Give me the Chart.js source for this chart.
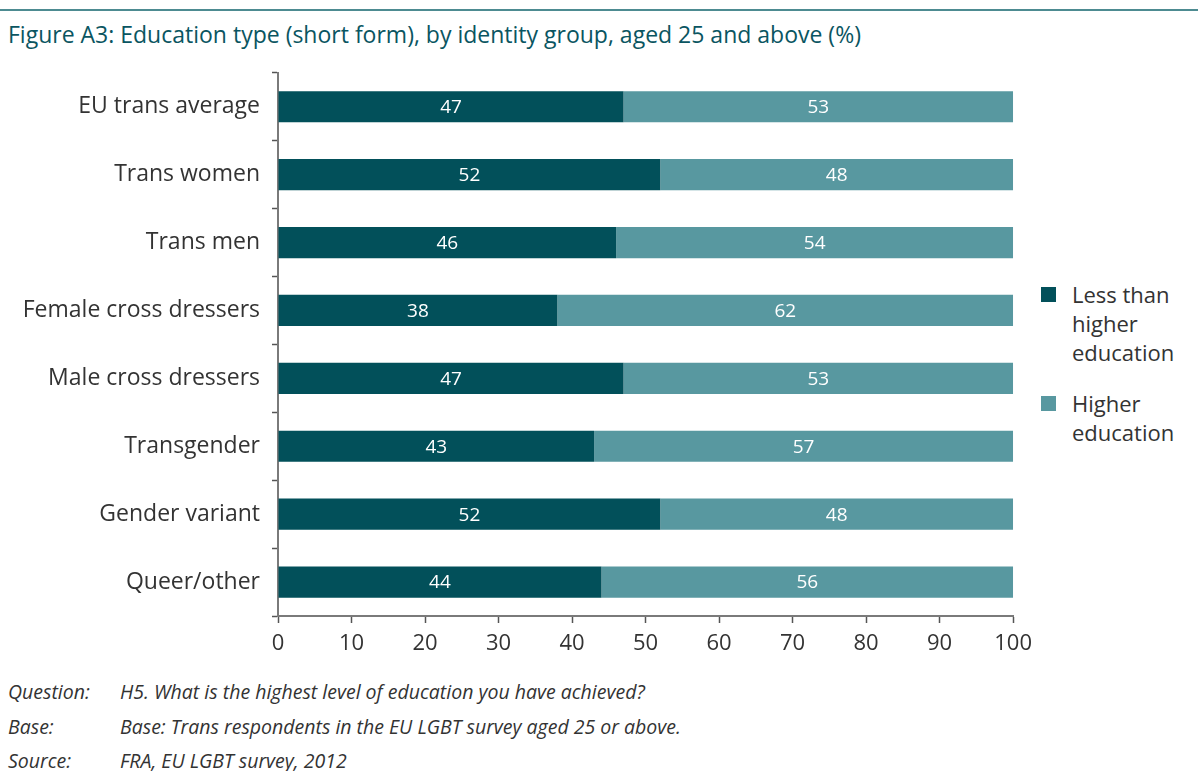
<!DOCTYPE html>
<html>
<head>
<meta charset="utf-8">
<script src="https://cdn.jsdelivr.net/npm/chart.js@4.4.0/dist/chart.umd.min.js"></script>
<style>
  body { margin: 0; background: #fff; font-family: "Open Sans", "Noto Sans", sans-serif; }
  #page { position: relative; width: 1198px; height: 771px; overflow: hidden; }
  #topRule { position: absolute; left: 0; top: 9px; width: 1198px; height: 2px; background: #4d8b91; }
  #title { position: absolute; left: 8px; top: 18px; font-size: 23px; color: #0a5561; white-space: nowrap; }
  #chartBox { position: absolute; left: 0; top: 47px; width: 1040px; height: 625px; }
  #legend { position: absolute; left: 1041px; top: 280px; font-size: 22px; color: #333; line-height: 29px; }
  .legItem { position: relative; padding-left: 31px; margin-bottom: 22px; }
  .legItem span.sw { position: absolute; left: 0; top: 7px; width: 15px; height: 15px; }
  #notes { position: absolute; left: 8px; top: 678px; font-size: 19.5px; color: #333; font-style: italic; }
  .note { height: 34.5px; white-space: nowrap; }
  .note b { display: inline-block; width: 112px; font-weight: normal; }
</style>
</head>
<body>
<div id="page">
  <div id="topRule"></div>
  <div id="title">Figure A3: Education type (short form), by identity group, aged 25 and above (%)</div>
  <div id="chartBox"><canvas id="eduChart"></canvas></div>
  <div id="legend"></div>
  <div id="notes">
    <div class="note"><b>Question:</b>H5. What is the highest level of education you have achieved?</div>
    <div class="note"><b>Base:</b>Base: Trans respondents in the EU LGBT survey aged 25 or above.</div>
    <div class="note"><b>Source:</b>FRA, EU LGBT survey, 2012</div>
  </div>
</div>
<script>
// Education type by identity group
const groups = ['EU trans average', 'Trans women', 'Trans men', 'Female cross dressers',
    'Male cross dressers', 'Transgender', 'Gender variant', 'Queer/other'];
const lessThanHigher = [47, 52, 46, 38, 47, 43, 52, 44];
const higherEdu = [53, 48, 54, 62, 53, 57, 48, 56];
const seriesNames = [['Less than', 'higher', 'education'], ['Higher', 'education']];
const xTicks = [0, 10, 20, 30, 40, 50, 60, 70, 80, 90, 100];

const darkTeal = '#02505a';
const lightTeal = '#5898a0';

// white value labels centred in each bar segment
const barLabels = {
    id: 'barLabels',
    afterDatasetsDraw(chart) {
        const ctx = chart.ctx;
        ctx.save();
        ctx.fillStyle = '#ffffff';
        ctx.font = '19px "Open Sans", "Noto Sans", sans-serif';
        ctx.textAlign = 'center';
        ctx.textBaseline = 'middle';
        chart.data.datasets.forEach((ds, i) => {
            chart.getDatasetMeta(i).data.forEach((bar, j) => {
                const mid = (bar.x + bar.base) / 2;
                ctx.fillText(ds.data[j], mid, bar.y + 1);
            });
        });
        ctx.restore();
    }
};

const ctx = document.getElementById('eduChart').getContext('2d');
new Chart(ctx, {
    type: 'bar',
    data: {
        labels: groups,
        datasets: [
            { label: seriesNames[0].join(' '), data: lessThanHigher, backgroundColor: darkTeal },
            { label: seriesNames[1].join(' '), data: higherEdu, backgroundColor: lightTeal }
        ]
    },
    options: {
        indexAxis: 'y',
        responsive: true,
        maintainAspectRatio: false,
        animation: false,
        layout: { padding: { top: 11, right: 25, left: 0, bottom: 0 } },
        datasets: { bar: { categoryPercentage: 1, barPercentage: 0.46, borderWidth: 0 } },
        plugins: {
            legend: { display: false },
            tooltip: { enabled: false }
        },
        scales: {
            x: {
                stacked: true,
                min: 0,
                max: 100,
                afterBuildTicks: axis => { axis.ticks = xTicks.map(v => ({ value: v })); },
                afterFit: axis => { axis.height = 56; },
                ticks: {
                    color: '#333',
                    padding: 8,
                    font: { size: 22, family: '"Open Sans", "Noto Sans", sans-serif' }
                },
                grid: { drawOnChartArea: false, tickLength: 7, color: '#555', tickWidth: 1.5 },
                border: { color: '#7a7a7a', width: 2 }
            },
            y: {
                stacked: true,
                afterFit: axis => { axis.width = 278; },
                ticks: {
                    color: '#333',
                    padding: 12,
                    font: { size: 23, family: '"Open Sans", "Noto Sans", sans-serif' }
                },
                grid: { drawOnChartArea: false, offset: true, tickLength: 6, color: '#555', tickWidth: 1.5 },
                border: { color: '#7a7a7a', width: 2 }
            }
        }
    },
    plugins: [barLabels]
});

// legend on the right, with wrapped labels
const legend = document.getElementById('legend');
[darkTeal, lightTeal].forEach((c, i) => {
    const item = document.createElement('div');
    item.className = 'legItem';
    item.innerHTML = '<span class="sw" style="background:' + c + '"></span>' + seriesNames[i].join('<br>');
    legend.appendChild(item);
});
</script>
</body>
</html>
